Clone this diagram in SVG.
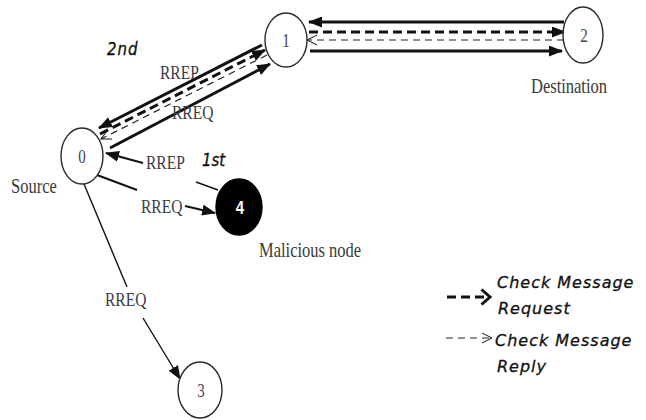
<svg xmlns="http://www.w3.org/2000/svg" width="646" height="420" viewBox="0 0 646 420">
  <style>
    .node { fill: #ffffff; stroke: #2a2a2a; stroke-width: 1.4; }
    .mal { fill: #000000; stroke: #000000; stroke-width: 1.4; }
    .lbl { font-family: "Liberation Serif", "Times New Roman", serif; font-size: 16.5px; fill: #3a3a3a; }
    .msg { font-family: "Liberation Serif", "Times New Roman", serif; font-size: 15.5px; fill: #3a3a44; }
    .num { font-family: "Liberation Serif", "Times New Roman", serif; font-size: 15px; fill: #444444; text-anchor: middle; }
    .num4 { font-family: "Liberation Sans", Arial, sans-serif; font-size: 15px; font-weight: bold; fill: #ffffff; text-anchor: middle; }
    .hand { font-family: "DejaVu Sans", "Liberation Sans", sans-serif; font-style: italic; font-size: 15px; fill: #111111; stroke: #111111; stroke-width: 0.3; }
    .legend { font-family: "DejaVu Sans", "Liberation Sans", sans-serif; font-style: italic; font-size: 16px; letter-spacing: 1px; fill: #111111; stroke: #111111; stroke-width: 0.3; }
    .solid { fill: none; stroke: #111111; stroke-width: 3; }
    .thin { fill: none; stroke: #111111; stroke-width: 1.4; }
    .req { fill: none; stroke: #111111; stroke-width: 3; stroke-dasharray: 9 5; }
    .rep { fill: none; stroke: #222222; stroke-width: 1.2; stroke-dasharray: 7 5; }
  </style>
  <defs>
    <marker id="head" markerUnits="userSpaceOnUse" viewBox="0 0 14 11" refX="13" refY="5.5" markerWidth="14" markerHeight="11" orient="auto">
      <path d="M0,0 L14,5.5 L0,11 z" fill="#111111"/>
    </marker>
    <marker id="openThin" markerUnits="userSpaceOnUse" viewBox="0 0 12 12" refX="11" refY="6" markerWidth="12" markerHeight="12" orient="auto">
      <path d="M1,1 L11,6 L1,11" fill="none" stroke="#111111" stroke-width="1"/>
    </marker>
    <marker id="openBold" markerUnits="userSpaceOnUse" viewBox="0 0 12 18" refX="10" refY="9" markerWidth="12" markerHeight="18" orient="auto">
      <path d="M1.5,1.5 L10,9 L1.5,16.5" fill="none" stroke="#111111" stroke-width="3"/>
    </marker>
  </defs>

  <!-- connectors -->
  <g id="connectors">
    <!-- 0 <-> 1 bundle -->
    <path class="solid" d="M262,45 L99,128" marker-end="url(#head)"/>
    <path class="req" d="M100,134 L265,50" marker-end="url(#head)"/>
    <path class="rep" d="M267,55 L101,139" marker-end="url(#openThin)"/>
    <path class="solid" d="M110,148 L270,64" marker-end="url(#head)"/>

    <!-- 1 <-> 2 bundle -->
    <path class="solid" d="M564,22 L309,22" marker-end="url(#head)"/>
    <path class="req" d="M309,32 L565,32" marker-end="url(#head)"/>
    <path class="rep" d="M564,40 L307,40" marker-end="url(#openThin)"/>
    <path class="solid" d="M310,51 L562,51" marker-end="url(#head)"/>

    <!-- 4 -> 0 RREP (1st) -->
    <path class="thin" d="M218,190 L196,182"/>
    <path class="solid" style="stroke-width:2" d="M143,163 L106,153" marker-end="url(#head)"/>

    <!-- 0 -> 4 RREQ -->
    <path class="solid" style="stroke-width:2" d="M97,175 L137,190"/>
    <path class="solid" style="stroke-width:2" d="M185,206 L215,213" marker-end="url(#head)"/>

    <!-- 0 -> 3 RREQ -->
    <path class="thin" d="M84,184 L127,287"/>
    <path class="thin" d="M143,318 L180,379" marker-end="url(#head)"/>

    <!-- legend arrows -->
    <path class="req" d="M447,297 L490,297" marker-end="url(#openBold)"/>
    <path class="rep" d="M446,338 L492,338" marker-end="url(#openThin)"/>
  </g>

  <!-- nodes -->
  <g id="node0">
    <ellipse class="node" cx="82" cy="156" rx="21" ry="28"/>
    <text class="num" transform="matrix(1 0 0 1.28 82 163)">0</text>
  </g>
  <g id="node1">
    <ellipse class="node" cx="286" cy="40" rx="21" ry="27"/>
    <text class="num" transform="matrix(1 0 0 1.28 286 47)">1</text>
  </g>
  <g id="node2">
    <ellipse class="node" cx="583" cy="35" rx="20" ry="28"/>
    <text class="num" transform="matrix(1 0 0 1.28 584 42)">2</text>
  </g>
  <g id="node3">
    <ellipse class="node" cx="200" cy="390" rx="22" ry="28"/>
    <text class="num" transform="matrix(1 0 0 1.28 201 397)">3</text>
  </g>
  <g id="node4">
    <ellipse class="mal" cx="239" cy="207" rx="23" ry="28"/>
    <text class="num4" transform="matrix(1 0 0 1.28 240 214)">4</text>
  </g>

  <!-- labels -->
  <g id="labels">
    <text class="lbl" transform="matrix(1 0 0 1.28 11 193)">Source</text>
    <text class="lbl" transform="matrix(1 0 0 1.28 531 93)">Destination</text>
    <text class="lbl" transform="matrix(1 0 0 1.28 259 257)">Malicious node</text>
    <text class="msg" transform="matrix(1 0 0 1.28 160 79)">RREP</text>
    <text class="msg" transform="matrix(1 0 0 1.28 172 119)">RREQ</text>
    <text class="msg" transform="matrix(1 0 0 1.28 146 169)">RREP</text>
    <text class="msg" transform="matrix(1 0 0 1.28 141 213)">RREQ</text>
    <text class="msg" transform="matrix(1 0 0 1.28 105 306)">RREQ</text>
    <text class="hand" transform="matrix(1 0 0 1.2 107 55)" letter-spacing="1">2nd</text>
    <text class="hand" transform="matrix(1 0 0 1.2 202 166)">1st</text>
    <text class="legend" x="497" y="288">Check Message</text>
    <text class="legend" x="498" y="314">Request</text>
    <text class="legend" x="495" y="346">Check Message</text>
    <text class="legend" x="497" y="372">Reply</text>
  </g>
</svg>
